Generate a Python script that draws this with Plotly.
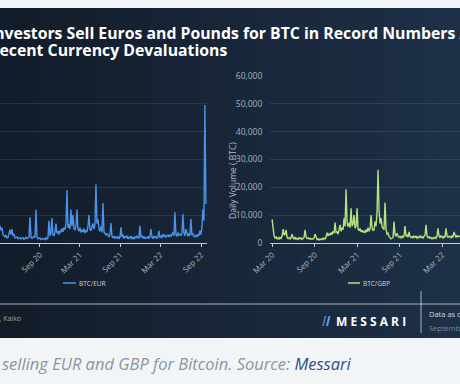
import plotly.graph_objects as go
import pandas as pd

W, H = 460, 384

# ---------------- data (daily volume, thousands of BTC, sampled ~every 4.5 days) -------------
eur_start, eur_end = "2020-03-04", "2022-09-23"
eur_k = [
    6.2, 4.5, 5.5, 3.0, 2.6, 2.2, 2.8, 1.8, 2.0, 3.2, 4.8, 3.0, 5.0, 2.5, 3.2, 1.8, 2.0, 2.2, 1.5, 1.7,
    2.0, 1.4, 1.6, 1.9, 1.3, 1.5, 2.1, 1.6, 1.8, 2.0, 9.2, 2.0, 1.7, 1.9, 2.4, 1.9, 12.0, 2.2, 1.5, 1.7,
    1.8, 1.3, 1.5, 1.6, 1.4, 1.2, 1.9, 1.4, 1.8, 8.0, 2.5, 3.5, 9.0, 3.0, 2.6, 3.8, 7.0, 3.5, 4.2, 3.0,
    4.5, 3.8, 5.2, 4.0, 5.5, 4.8, 6.5, 19.0, 5.5, 6.8, 5.0, 12.0, 6.0, 10.0, 5.2, 4.6, 6.0, 12.0, 5.0, 4.2,
    5.5, 3.8, 4.8, 4.0, 5.2, 3.6, 4.5, 4.0, 6.0, 10.0, 5.0, 4.4, 5.8, 7.0, 5.0, 6.5, 21.0, 7.0, 8.6, 5.0,
    4.2, 6.0, 3.8, 14.4, 4.0, 3.2, 2.8, 3.5, 2.5, 2.2, 3.0, 7.2, 2.4, 1.8, 2.5, 1.6, 2.2, 1.8, 2.4, 1.5,
    2.0, 5.6, 2.2, 3.0, 1.6, 2.4, 1.8, 2.6, 1.5, 2.1, 1.7, 2.5, 1.6, 2.0, 1.4, 2.2, 1.8, 2.6, 2.0, 1.6,
    6.2, 2.0, 2.6, 1.7, 2.3, 1.5, 2.0, 1.8, 2.4, 1.6, 2.2, 5.0, 2.2, 1.6, 2.5, 1.8, 2.4, 1.7, 2.2, 4.4,
    1.9, 2.6, 1.8, 3.2, 2.4, 2.8, 2.0, 2.6, 3.0, 2.2, 2.8, 2.4, 3.2, 3.8, 2.6, 11.0, 3.0, 2.4, 3.8, 2.8,
    3.2, 2.6, 3.4, 10.4, 3.6, 2.6, 5.0, 3.0, 2.4, 3.5, 2.6, 8.6, 2.8, 3.4, 2.4, 2.2, 2.8, 2.3, 3.0, 2.6,
    4.4, 3.0, 5.5, 12.0, 8.0, 49.6, 14.0,
]

gbp_start, gbp_end = "2020-03-01", "2022-05-17"
gbp_k = [
    8.5, 5.0, 2.5, 1.8, 2.2, 1.5, 1.9, 1.4, 2.0, 1.6, 2.4, 5.0, 2.8, 3.2, 4.7, 2.0, 1.6, 1.9, 1.4, 2.0,
    3.2, 1.8, 1.5, 2.1, 1.4, 1.7, 1.3, 1.9, 1.5, 1.8, 1.3, 1.6, 2.0, 4.7, 2.2, 1.6, 1.9, 1.4, 1.7, 1.3,
    1.6, 1.4, 1.8, 3.2, 1.6, 1.2, 1.5, 1.1, 1.4, 1.2, 1.6, 1.3, 1.8, 1.5, 2.2, 3.7, 2.5, 3.4, 2.8, 3.8,
    3.0, 4.2, 3.5, 7.3, 3.8, 4.0, 3.2, 4.8, 6.5, 4.2, 5.5, 4.8, 8.9, 6.0, 19.3, 7.5, 5.9, 7.2, 5.5, 12.5,
    6.0, 7.0, 10.0, 5.3, 6.2, 12.5, 5.0, 4.4, 5.2, 4.0, 4.6, 3.8, 4.4, 3.6, 4.8, 4.0, 5.5, 4.2, 5.0, 10.0,
    5.5, 4.5, 4.7, 7.7, 6.0, 11.0, 26.3, 11.9, 7.0, 8.9, 6.0, 5.3, 4.8, 14.5, 5.0, 3.2, 3.5, 2.4, 1.8, 1.5,
    1.7, 2.0, 7.7, 3.0, 2.4, 3.5, 2.6, 2.0, 2.3, 1.8, 2.5, 2.0, 2.6, 6.1, 2.4, 2.8, 2.1, 4.0, 2.4, 2.0,
    2.3, 1.8, 2.6, 2.0, 2.4, 1.7, 2.2, 1.9, 2.5, 2.0, 2.3, 1.8, 2.4, 2.8, 6.5, 2.5, 1.9, 2.2, 1.7, 2.0,
    1.5, 1.9, 1.6, 2.1, 1.7, 2.4, 5.3, 2.6, 2.0, 2.5, 2.3, 1.8, 2.4, 2.0, 5.3, 2.6, 2.0, 2.4, 2.3, 1.9,
    2.5, 2.1, 4.0, 2.4, 2.0, 2.6, 2.2, 2.5, 2.3,
]

y_tick_vals = [0, 10000, 20000, 30000, 40000, 50000, 60000]
y_tick_text = ["0", "10,000", "20,000", "30,000", "40,000", "50,000", "60,000"]
eur_name = "BTC/EUR"
gbp_name = "BTC/GBP"
title_line1 = "Investors Sell Euros and Pounds for BTC in Record Numbers After"
title_line2 = "Recent Currency Devaluations"
y_title = "Daily Volume ( BTC)"
source_text = "Source: Messari, Kaiko"
date_line1 = "Data as of"
date_line2 = "September 27, 2022"
caption = "selling EUR and GBP for Bitcoin. Source: "
caption_link = "Messari"

EUR_COLOR = "#4b93ea"
GBP_COLOR = "#b4e27c"


def px(x):
    return x / W


def py(y):
    return 1 - y / H


eur_dates = pd.date_range(eur_start, eur_end, periods=len(eur_k))
gbp_dates = pd.date_range(gbp_start, gbp_end, periods=len(gbp_k))

fig = go.Figure()
fig.add_trace(go.Scatter(x=eur_dates, y=[v * 1000 for v in eur_k], mode="lines",
                         line=dict(color=EUR_COLOR, width=1.4), name=eur_name,
                         xaxis="x", yaxis="y", showlegend=False))
fig.add_trace(go.Scatter(x=gbp_dates, y=[v * 1000 for v in gbp_k], mode="lines",
                         line=dict(color=GBP_COLOR, width=1.4), name=gbp_name,
                         xaxis="x2", yaxis="y2", showlegend=False))

tickfont = dict(family="Open Sans", size=8, color="#a7b1bd")
xcommon = dict(type="date", tickformat="%b %y", dtick="M6", tick0="2020-03-01",
               tickangle=-45, tickfont=tickfont, showgrid=False, zeroline=False,
               showline=True, linecolor="#c3cad3", linewidth=1,
               ticks="outside", ticklen=3, tickcolor="#c3cad3", automargin=False)
ycommon = dict(range=[0, 60000], tickvals=y_tick_vals, ticktext=y_tick_text,
               showgrid=True, gridcolor="rgba(255,255,255,0.09)", gridwidth=1,
               zeroline=False, showline=False, tickfont=dict(family="Open Sans", size=8.5, color="#a7b1bd"),
               automargin=False, domain=[py(243), py(76)])

fig.update_layout(
    width=W, height=H,
    margin=dict(l=0, r=0, t=0, b=0),
    paper_bgcolor="#f2f5f8",
    plot_bgcolor="rgba(0,0,0,0)",
    xaxis=dict(domain=[0, px(207)], range=["2020-03-04", "2022-09-28"], anchor="y", **xcommon),
    yaxis=dict(anchor="x", showticklabels=False, **ycommon),
    xaxis2=dict(domain=[px(270), 1], range=["2020-02-21", "2022-05-17"], anchor="y2", **xcommon),
    yaxis2=dict(anchor="x2", showticklabels=True, ticks="outside", ticklen=5,
                tickcolor="rgba(0,0,0,0)", **ycommon),
    showlegend=False,
)

# ---------------- background panel with horizontal gradient ----------------
shapes = [dict(type="rect", xref="paper", yref="paper", x0=0, x1=1, y0=py(338), y1=py(8),
               fillcolor="#131c29", line=dict(width=0), layer="below")]
c0 = (19, 28, 41)
c1 = (29, 48, 72)
n = 46
for i in range(n):
    t = i / (n - 1)
    c = tuple(int(round(c0[k] + (c1[k] - c0[k]) * t)) for k in range(3))
    shapes.append(dict(type="rect", xref="paper", yref="paper",
                       x0=i / n, x1=(i + 1) / n + 0.002, y0=py(338), y1=py(8),
                       fillcolor="rgb(%d,%d,%d)" % c, line=dict(width=0), layer="below"))

# legend swatches
shapes.append(dict(type="line", xref="paper", yref="paper", x0=px(63), x1=px(76), y0=py(283), y1=py(283),
                   line=dict(color=EUR_COLOR, width=1.5)))
shapes.append(dict(type="line", xref="paper", yref="paper", x0=px(348), x1=px(360), y0=py(283), y1=py(283),
                   line=dict(color=GBP_COLOR, width=1.5)))
# footer separators
shapes.append(dict(type="line", xref="paper", yref="paper", x0=0, x1=1, y0=py(304), y1=py(304),
                   line=dict(color="rgba(220,226,234,0.75)", width=1)))
shapes.append(dict(type="line", xref="paper", yref="paper", x0=px(421), x1=px(421), y0=py(291), y1=py(333),
                   line=dict(color="rgba(220,226,234,0.75)", width=1)))


# Messari logo mark
def path(pts):
    return "M " + " L ".join("%f,%f" % (px(a), py(b)) for a, b in pts) + " Z"


shapes.append(dict(type="path", xref="paper", yref="paper",
                   path=path([(322, 326), (324.5, 316), (326.5, 316), (324, 326)]),
                   fillcolor="#3f6fb8", line=dict(width=0)))
shapes.append(dict(type="path", xref="paper", yref="paper",
                   path=path([(326, 326), (328.5, 316), (330.5, 316), (328, 326)]),
                   fillcolor="#5aa0f0", line=dict(width=0)))
fig.update_layout(shapes=shapes)

ann = []
tfont = dict(family="Open Sans", size=15.8, color="#ffffff")
ann.append(dict(text="<b>%s</b>" % title_line1, x=px(-12), y=py(33), xref="paper", yref="paper",
                xanchor="left", yanchor="middle", showarrow=False, font=tfont, borderpad=0))
ann.append(dict(text="<b>%s</b>" % title_line2, x=px(-12), y=py(49.5), xref="paper", yref="paper",
                xanchor="left", yanchor="middle", showarrow=False, font=tfont, borderpad=0))
ann.append(dict(text=y_title, x=px(232), y=py(181), xref="paper", yref="paper", textangle=-90,
                xanchor="center", yanchor="middle", showarrow=False,
                font=dict(family="Open Sans", size=8.5, color="#b3bcc7")))
lfont = dict(family="Open Sans", size=6.5, color="#c9d0d9")
ann.append(dict(text=eur_name, x=px(77), y=py(283), xref="paper", yref="paper", xanchor="left",
                yanchor="middle", showarrow=False, font=lfont))
ann.append(dict(text=gbp_name, x=px(361), y=py(283), xref="paper", yref="paper", xanchor="left",
                yanchor="middle", showarrow=False, font=lfont))
ann.append(dict(text=source_text, x=px(23), y=py(318), xref="paper", yref="paper", xanchor="right",
                yanchor="middle", showarrow=False, font=dict(family="Open Sans", size=7, color="#9aa5b1")))
ann.append(dict(text="<b>M E S S A R I</b>", x=px(334), y=py(321), xref="paper", yref="paper",
                xanchor="left", yanchor="middle", showarrow=False,
                font=dict(family="Open Sans", size=12, color="#ffffff")))
ann.append(dict(text=date_line1, x=px(427), y=py(314), xref="paper", yref="paper", xanchor="left",
                yanchor="middle", showarrow=False, font=dict(family="Open Sans", size=7.5, color="#cdd4dc")))
ann.append(dict(text=date_line2, x=px(427), y=py(328), xref="paper", yref="paper", xanchor="left",
                yanchor="middle", showarrow=False, font=dict(family="Open Sans", size=7.5, color="#7c8896")))
ann.append(dict(text="<i>%s<span style='color:#2d4e84'>%s</span></i>" % (caption, caption_link),
                x=px(0), y=py(363), xref="paper", yref="paper", xanchor="left", yanchor="middle",
                showarrow=False, font=dict(family="Open Sans", size=16.5, color="#8d939b")))
fig.update_layout(annotations=ann)

fig.write_html("out.html", config={"displayModeBar": False},
               post_script="document.body.style.margin='0';document.body.style.overflow='hidden';")
